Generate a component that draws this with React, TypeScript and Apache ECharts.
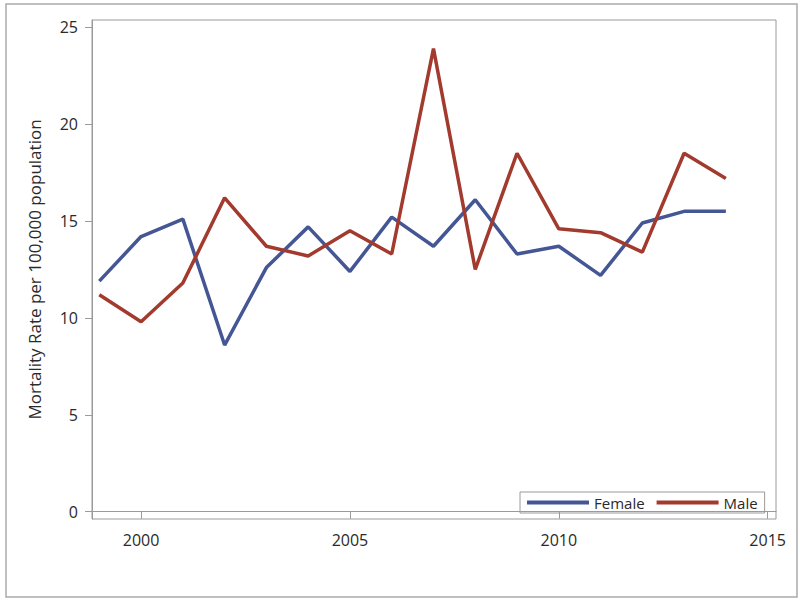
import React, { useEffect, useRef } from "react";
import * as echarts from "echarts";

const years = [1999, 2000, 2001, 2002, 2003, 2004, 2005, 2006, 2007, 2008, 2009, 2010, 2011, 2012, 2013, 2014];
const female = [11.9, 14.2, 15.1, 8.6, 12.6, 14.7, 12.4, 15.2, 13.7, 16.1, 13.3, 13.7, 12.2, 14.9, 15.5, 15.5];
const male = [11.2, 9.8, 11.8, 16.2, 13.7, 13.2, 14.5, 13.3, 23.9, 12.5, 18.5, 14.6, 14.4, 13.4, 18.5, 17.2];
const xTicks = [2000, 2005, 2010, 2015];
const yTicks = [0, 5, 10, 15, 20, 25];
const seriesNames = ["Female", "Male"];
const yTitle = "Mortality Rate per 100,000 population";

const FONT = "'Open Sans', 'Noto Sans', sans-serif";
const AXIS = "#9a9a9a";
const TEXT = "#2a2a2a";

export default function App() {
  const ref = useRef<HTMLDivElement>(null);
  useEffect(() => {
    if (!ref.current) return;
    const chart = echarts.init(ref.current, undefined, { renderer: "svg" });
    chart.setOption({
      animation: false,
      backgroundColor: "#ffffff",
      textStyle: { fontFamily: FONT },
      graphic: [
        {
          type: "rect",
          shape: { x: 6, y: 4, width: 791, height: 593 },
          style: { fill: "none", stroke: "#aaaaaa", lineWidth: 1.5 },
          silent: true,
        },
      ],
      grid: {
        left: 92,
        top: 20,
        width: 684,
        height: 499,
        show: true,
        borderColor: AXIS,
        borderWidth: 1,
        containLabel: false,
      },
      legend: {
        data: seriesNames,
        left: 520,
        top: 492,
        icon: "rect",
        itemWidth: 62,
        itemHeight: 4,
        itemGap: 12,
        padding: [3, 7, 3, 7],
        borderColor: AXIS,
        borderWidth: 1,
        textStyle: { fontFamily: FONT, fontSize: 15, color: TEXT },
      },
      xAxis: {
        type: "value",
        min: 1998.825,
        max: 2015.2,
        axisLine: { show: true, lineStyle: { color: AXIS, width: 1 } },
        axisTick: { show: true, length: 7, lineStyle: { color: AXIS }, customValues: xTicks },
        axisLabel: {
          customValues: xTicks,
          formatter: (v: number) => String(v),
          fontSize: 16,
          color: TEXT,
          fontFamily: FONT,
          margin: 13,
        },
        splitLine: { show: false },
      },
      yAxis: {
        type: "value",
        min: -0.377,
        max: 25.377,
        name: yTitle,
        nameLocation: "middle",
        nameRotate: 90,
        nameGap: 49,
        nameTextStyle: { fontSize: 17, color: TEXT, fontFamily: FONT },
        axisLine: { show: true, lineStyle: { color: AXIS, width: 1 } },
        axisTick: { show: true, length: 7, lineStyle: { color: AXIS }, customValues: yTicks },
        axisLabel: {
          customValues: yTicks,
          formatter: (v: number) => String(v),
          fontSize: 16,
          color: TEXT,
          fontFamily: FONT,
          margin: 14,
        },
        splitLine: { show: false },
      },
      series: [
        {
          name: seriesNames[0],
          type: "line",
          data: years.map((y, i) => [y, female[i]]),
          showSymbol: false,
          symbol: "none",
          color: "#445694",
          lineStyle: { width: 3.5, color: "#445694" },
          itemStyle: { color: "#445694" },
        },
        {
          name: seriesNames[1],
          type: "line",
          data: years.map((y, i) => [y, male[i]]),
          showSymbol: false,
          symbol: "none",
          color: "#A23A2E",
          lineStyle: { width: 3.5, color: "#A23A2E" },
          itemStyle: { color: "#A23A2E" },
        },
      ],
    });
    return () => chart.dispose();
  }, []);
  return (
    <div
      ref={ref}
      style={{ position: "absolute", left: 0, top: 0, width: 800, height: 603 }}
    />
  );
}
